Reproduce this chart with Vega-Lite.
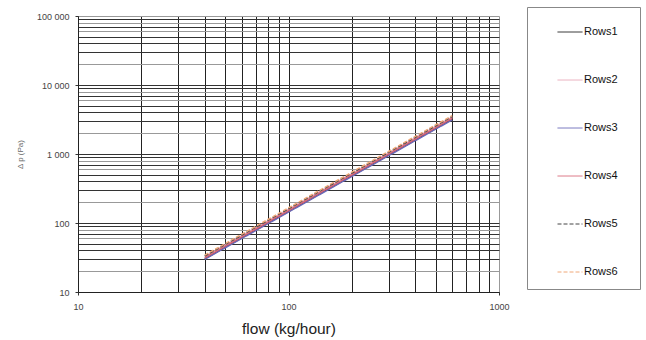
{
  "$schema": "https://vega.github.io/schema/vega-lite/v6.json",
  "width": 421,
  "height": 276,
  "autosize": {"type": "none"},
  "padding": {"left": 78, "top": 16, "right": 147, "bottom": 48},
  "background": "white",
  "config": {
    "font": "Liberation Sans, Arial, sans-serif",
    "view": {"stroke": null}
  },
  "data": {
    "values": [
      {"series": "Rows1", "flow": 40, "dp": 30.4},
      {"series": "Rows1", "flow": 60, "dp": 61.1},
      {"series": "Rows1", "flow": 100, "dp": 147.1},
      {"series": "Rows1", "flow": 200, "dp": 484.3},
      {"series": "Rows1", "flow": 400, "dp": 1595},
      {"series": "Rows1", "flow": 600, "dp": 3204},
      {"series": "Rows2", "flow": 40, "dp": 32.6},
      {"series": "Rows2", "flow": 60, "dp": 65.6},
      {"series": "Rows2", "flow": 100, "dp": 157.9},
      {"series": "Rows2", "flow": 200, "dp": 520.0},
      {"series": "Rows2", "flow": 400, "dp": 1713},
      {"series": "Rows2", "flow": 600, "dp": 3440},
      {"series": "Rows3", "flow": 40, "dp": 29.8},
      {"series": "Rows3", "flow": 60, "dp": 59.8},
      {"series": "Rows3", "flow": 100, "dp": 144.0},
      {"series": "Rows3", "flow": 200, "dp": 474.1},
      {"series": "Rows3", "flow": 400, "dp": 1561},
      {"series": "Rows3", "flow": 600, "dp": 3137},
      {"series": "Rows4", "flow": 40, "dp": 31.4},
      {"series": "Rows4", "flow": 60, "dp": 63.0},
      {"series": "Rows4", "flow": 100, "dp": 151.7},
      {"series": "Rows4", "flow": 200, "dp": 499.6},
      {"series": "Rows4", "flow": 400, "dp": 1645},
      {"series": "Rows4", "flow": 600, "dp": 3306},
      {"series": "Rows5", "flow": 40, "dp": 33.3},
      {"series": "Rows5", "flow": 60, "dp": 66.9},
      {"series": "Rows5", "flow": 100, "dp": 161.0},
      {"series": "Rows5", "flow": 200, "dp": 530.2},
      {"series": "Rows5", "flow": 400, "dp": 1746},
      {"series": "Rows5", "flow": 600, "dp": 3508},
      {"series": "Rows6", "flow": 40, "dp": 34.2},
      {"series": "Rows6", "flow": 60, "dp": 68.8},
      {"series": "Rows6", "flow": 100, "dp": 165.6},
      {"series": "Rows6", "flow": 200, "dp": 545.5},
      {"series": "Rows6", "flow": 400, "dp": 1797},
      {"series": "Rows6", "flow": 600, "dp": 3609}
    ]
  },
  "mark": {"type": "line", "strokeWidth": 1.5},
  "encoding": {
    "x": {
      "field": "flow",
      "type": "quantitative",
      "scale": {"type": "log", "domain": [10, 1000], "nice": false},
      "axis": {
        "title": "flow (kg/hour)",
        "titleFontSize": 15.5,
        "titleFontWeight": "normal",
        "titleColor": "#222",
        "titlePadding": 10,
        "values": [10, 20, 30, 40, 50, 60, 70, 80, 90, 100, 200, 300, 400, 500, 600, 700, 800, 900, 1000],
        "labelExpr": "indexof([10,100,1000], datum.value) >= 0 ? datum.value + '' : ''",
        "labelFontSize": 9,
        "labelColor": "#444",
        "labelPadding": 7,
        "tickSize": 3,
        "tickColor": "#333",
        "tickOpacity": {"condition": {"test": "indexof([10,100,1000], datum.value) >= 0", "value": 1}, "value": 0},
        "domainColor": "#222",
        "grid": true,
        "gridColor": {"condition": {"test": "datum.value == 1000", "value": "#999"}, "value": "#222"},
        "gridWidth": 1,
        "labelFlush": false
      }
    },
    "y": {
      "field": "dp",
      "type": "quantitative",
      "scale": {"type": "log", "domain": [10, 100000], "nice": false},
      "axis": {
        "title": "Δ p  (Pa)",
        "titleFontSize": 8,
        "titleFontWeight": "normal",
        "titleColor": "#666",
        "titlePadding": 12,
        "values": [10, 20, 30, 40, 50, 60, 70, 80, 90, 100, 200, 300, 400, 500, 600, 700, 800, 900, 1000, 2000, 3000, 4000, 5000, 6000, 7000, 8000, 9000, 10000, 20000, 30000, 40000, 50000, 60000, 70000, 80000, 90000, 100000],
        "labelExpr": "indexof([10,100,1000,10000,100000], datum.value) >= 0 ? replace(format(datum.value, ','), ',', ' ') : ''",
        "labelFontSize": 9,
        "labelColor": "#444",
        "labelPadding": 6,
        "tickSize": 3,
        "tickColor": "#333",
        "tickOpacity": {"condition": {"test": "indexof([10,100,1000,10000,100000], datum.value) >= 0", "value": 1}, "value": 0},
        "domainColor": "#222",
        "grid": true,
        "gridColor": {"condition": {"test": "indexof([20,200,2000,20000,100000,60,600,6000,60000,80,800,8000,80000], datum.value) >= 0", "value": "#999"}, "value": "#333"},
        "gridWidth": 1,
        "labelFlush": false
      }
    },
    "color": {
      "field": "series",
      "type": "nominal",
      "scale": {
        "domain": ["Rows1", "Rows2", "Rows3", "Rows4", "Rows5", "Rows6"],
        "range": ["#222222", "#e8a8b8", "#6a68b8", "#d86878", "#444444", "#f0a878"]
      },
      "legend": {
        "title": "o",
        "titleOrient": "right",
        "titleColor": "transparent",
        "titleFontSize": 11,
        "titlePadding": 3,
        "orient": "none",
        "legendX": 449,
        "legendY": -9,
        "padding": 12,
        "strokeColor": "#888",
        "symbolType": "stroke",
        "symbolSize": 625,
        "symbolStrokeWidth": 1,
        "symbolOffset": 18,
        "labelOffset": 1,
        "labelFontSize": 11,
        "labelColor": "#111",
        "rowPadding": 30
      }
    },
    "strokeDash": {
      "field": "series",
      "type": "nominal",
      "scale": {
        "domain": ["Rows1", "Rows2", "Rows3", "Rows4", "Rows5", "Rows6"],
        "range": [[1, 0], [1, 0], [1, 0], [1, 0], [4, 2], [4, 2]]
      },
      "legend": {
        "title": "o",
        "titleOrient": "right",
        "titleColor": "transparent",
        "titleFontSize": 11,
        "titlePadding": 3,
        "orient": "none",
        "legendX": 449,
        "legendY": -9,
        "padding": 12,
        "strokeColor": "#888",
        "symbolType": "stroke",
        "symbolSize": 625,
        "symbolStrokeWidth": 1,
        "symbolOffset": 18,
        "labelOffset": 1,
        "labelFontSize": 11,
        "labelColor": "#111",
        "rowPadding": 30
      }
    }
  }
}
